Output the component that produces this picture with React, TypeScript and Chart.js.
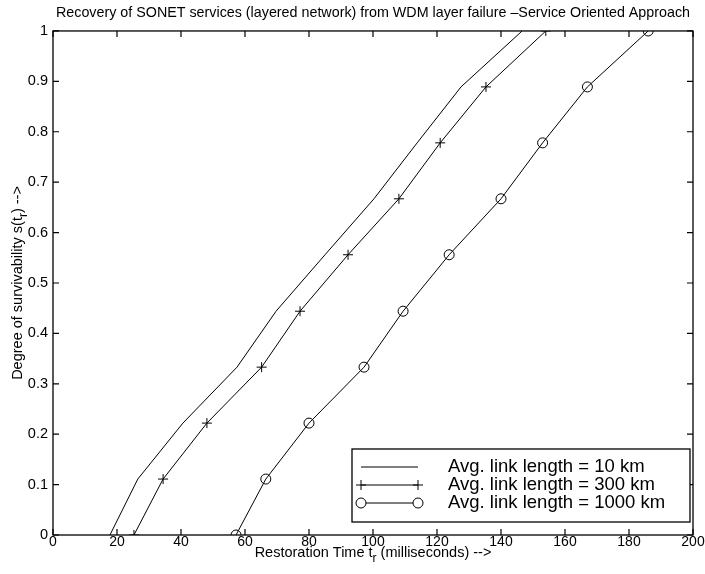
import React, { useEffect, useRef } from "react";
import { Chart, registerables } from "chart.js";

Chart.register(...registerables);

// ---- data ----
const survivability = [0, 0.111, 0.222, 0.333, 0.444, 0.556, 0.667, 0.778, 0.889, 1];
const time10km = [17.8, 26.5, 40.6, 57.5, 69.7, 85.0, 100.3, 113.8, 127.5, 146.6];
const time300km = [25.3, 34.4, 48.1, 65.2, 77.2, 92.2, 108.1, 121.0, 135.3, 154.0];
const time1000km = [57.2, 66.5, 80.0, 97.2, 109.4, 123.8, 140.0, 153.0, 167.0, 186.0];
const seriesLabels = [
  "Avg. link length = 10 km",
  "Avg. link length = 300 km",
  "Avg. link length = 1000 km",
];
const titleText =
  "Recovery of SONET services (layered network) from WDM layer failure \u2013Service Oriented Approach";
const xTitleParts = ["Restoration Time t", "r", " (milliseconds) -->"];
const yTitleParts = ["Degree of survivability s(t", "r", ") -->"];

const FONT = "'Liberation Sans', Arial, Helvetica, sans-serif";

function toPoints(xs: number[]) {
  return xs.map((x, i) => ({ x, y: survivability[i] }));
}

function drawSubText(ctx: CanvasRenderingContext2D, parts: string[], cx: number, cy: number, size: number, subSize: number, subDrop: number) {
  ctx.font = `${size}px ${FONT}`;
  const w0 = ctx.measureText(parts[0]).width;
  const w2 = ctx.measureText(parts[2]).width;
  ctx.font = `${subSize}px ${FONT}`;
  const w1 = ctx.measureText(parts[1]).width;
  const total = w0 + w1 + w2;
  let x = cx - total / 2;
  ctx.textAlign = "left";
  ctx.textBaseline = "middle";
  ctx.font = `${size}px ${FONT}`;
  ctx.fillText(parts[0], x, cy);
  x += w0;
  ctx.font = `${subSize}px ${FONT}`;
  ctx.fillText(parts[1], x, cy + subDrop);
  x += w1;
  ctx.font = `${size}px ${FONT}`;
  ctx.fillText(parts[2], x, cy);
}

const framePlugin = {
  id: "matlabFrame",
  afterDraw(chart: any) {
    const { ctx, chartArea: a, scales } = chart;
    ctx.save();
    ctx.strokeStyle = "#000";
    ctx.fillStyle = "#000";
    ctx.lineWidth = 1.3;
    ctx.strokeRect(a.left, a.top, a.right - a.left, a.bottom - a.top);
    const L = 6;
    ctx.lineWidth = 1.2;
    ctx.beginPath();
    scales.x.ticks.forEach((t: any) => {
      const px = scales.x.getPixelForValue(t.value);
      ctx.moveTo(px, a.bottom);
      ctx.lineTo(px, a.bottom - L);
      ctx.moveTo(px, a.top);
      ctx.lineTo(px, a.top + L);
    });
    scales.y.ticks.forEach((t: any) => {
      const py = scales.y.getPixelForValue(t.value);
      ctx.moveTo(a.left, py);
      ctx.lineTo(a.left + L, py);
      ctx.moveTo(a.right, py);
      ctx.lineTo(a.right - L, py);
    });
    ctx.stroke();

    // axis titles
    drawSubText(ctx, xTitleParts, (a.left + a.right) / 2, a.bottom + 18, 14.5, 12, 6);
    ctx.save();
    ctx.translate(18, (a.top + a.bottom) / 2);
    ctx.rotate(-Math.PI / 2);
    drawSubText(ctx, yTitleParts, 0, 0, 14.5, 12, 6);
    ctx.restore();

    // legend
    const lx = a.right - 341;
    const ly = a.bottom - 86;
    const lw = 338;
    const lh = 73;
    ctx.fillStyle = "#fff";
    ctx.fillRect(lx, ly, lw, lh);
    ctx.lineWidth = 1.3;
    ctx.strokeStyle = "#000";
    ctx.strokeRect(lx, ly, lw, lh);
    const rows = [a.bottom - 68, a.bottom - 50, a.bottom - 32];
    chart.data.datasets.forEach((ds: any, i: number) => {
      const y = rows[i];
      const x1 = lx + 9;
      const x2 = lx + 66;
      ctx.lineWidth = 1;
      ctx.beginPath();
      ctx.moveTo(x1, y);
      ctx.lineTo(x2, y);
      ctx.stroke();
      if (ds.pointStyle === "cross") {
        [x1, x2].forEach((mx) => {
          ctx.beginPath();
          ctx.moveTo(mx - 5, y);
          ctx.lineTo(mx + 5, y);
          ctx.moveTo(mx, y - 5);
          ctx.lineTo(mx, y + 5);
          ctx.stroke();
        });
      } else if (ds.pointRadius > 0) {
        [x1, x2].forEach((mx) => {
          ctx.beginPath();
          ctx.arc(mx, y, 5, 0, Math.PI * 2);
          ctx.fillStyle = "#fff";
          ctx.fill();
          ctx.stroke();
        });
      }
      ctx.fillStyle = "#000";
      ctx.font = `18.5px ${FONT}`;
      ctx.textAlign = "left";
      ctx.textBaseline = "middle";
      ctx.fillText(ds.label, lx + 96, y);
    });
    ctx.restore();
  },
};

export default function App() {
  const canvasRef = useRef<HTMLCanvasElement | null>(null);

  useEffect(() => {
    if (!canvasRef.current) return;
    Chart.defaults.font.family = FONT;
    Chart.defaults.color = "#000";
    const chart = new Chart(canvasRef.current, {
      type: "line",
      data: {
        datasets: [
          {
            label: seriesLabels[0],
            data: toPoints(time10km),
            borderColor: "#000",
            borderWidth: 1,
            pointRadius: 0,
            pointHoverRadius: 0,
            fill: false,
            tension: 0,
          },
          {
            label: seriesLabels[1],
            data: toPoints(time300km),
            borderColor: "#000",
            borderWidth: 1,
            pointStyle: "cross",
            pointRadius: 5,
            pointBorderWidth: 1,
            pointBorderColor: "#000",
            fill: false,
            tension: 0,
          },
          {
            label: seriesLabels[2],
            data: toPoints(time1000km),
            borderColor: "#000",
            borderWidth: 1,
            pointStyle: "circle",
            pointRadius: 5,
            pointBorderWidth: 1,
            pointBorderColor: "#000",
            pointBackgroundColor: "rgba(0,0,0,0)",
            fill: false,
            tension: 0,
          },
        ],
      },
      options: {
        animation: false,
        responsive: false,
        events: [],
        layout: { padding: { left: 0, right: 12, top: 0, bottom: 0 } },
        plugins: {
          legend: { display: false },
          tooltip: { enabled: false },
          title: {
            display: true,
            text: titleText,
            fullSize: false,
            color: "#000",
            font: { family: FONT, size: 14.3, weight: "normal" },
            padding: { top: 4.5, bottom: 9.3 },
          },
        },
        scales: {
          x: {
            type: "linear",
            min: 0,
            max: 200,
            grid: { display: false, drawTicks: false },
            border: { display: false },
            ticks: {
              stepSize: 20,
              padding: 0,
              maxRotation: 0,
              autoSkip: false,
              font: { family: FONT, size: 14, lineHeight: 1 },
              color: "#000",
            },
            afterFit: (scale: any) => {
              scale.height = 39;
            },
          },
          y: {
            type: "linear",
            min: 0,
            max: 1,
            grid: { display: false, drawTicks: false },
            border: { display: false },
            ticks: {
              stepSize: 0.1,
              padding: 5,
              autoSkip: false,
              font: { family: FONT, size: 14.5 },
              color: "#000",
              callback: (v: any) => String(Number(Number(v).toFixed(1))),
            },
            afterFit: (scale: any) => {
              scale.width = 53;
            },
          },
        },
      },
      plugins: [framePlugin],
    });
    return () => chart.destroy();
  }, []);

  return (
    <div style={{ position: "absolute", left: 0, top: 0, width: 705, height: 574, background: "#fff" }}>
      <canvas ref={canvasRef} width={705} height={574} />
    </div>
  );
}
